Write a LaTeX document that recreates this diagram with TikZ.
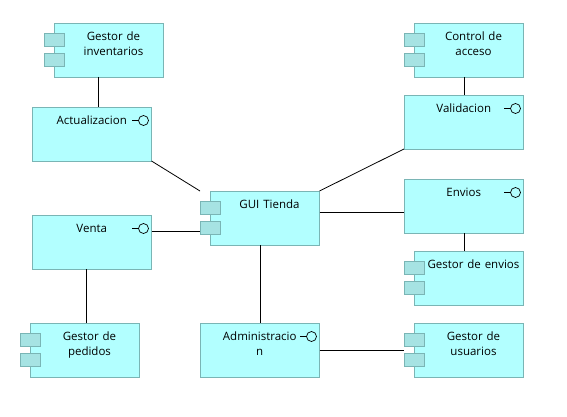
\documentclass[tikz,border=0pt]{standalone}
\usepackage{fontspec}
\setmainfont{Open Sans}
\definecolor{boxfill}{HTML}{B2FFFF}
\definecolor{boxline}{HTML}{7AB5B5}
\definecolor{tabfill}{HTML}{A6E3E3}
\begin{document}
\begin{tikzpicture}[x=1pt,y=-1pt,
	basebox/.style={draw=boxline,fill=boxfill,line width=.9pt,anchor=north west,outer sep=0pt,inner sep=0pt,
		align=center,font=\fontsize{11.5}{15}\selectfont,text height=17.5pt,text depth=36.5pt},
	compbox/.style={basebox,text width=109.5pt,
		execute at begin node={\leftskip=9.5pt plus 1fil\rightskip=0pt plus 1fil\parfillskip=0pt}},
	ifacebox/.style={basebox,text width=119.5pt},
	tabbox/.style={draw=boxline,fill=tabfill,line width=.9pt,minimum width=20.5pt,minimum height=13.5pt,inner sep=0pt,outer sep=0pt,anchor=north west},
	port/.style={draw=black,circle,line width=.7pt,minimum size=10pt,inner sep=0pt,outer sep=0pt},
	wire/.style={draw=black,line width=.8pt}]
	\useasboundingbox (0,0) rectangle (567,417);
	\node[compbox] (inv) at (54,23) {Gestor de\\inventarios};
	\node[ifacebox] (act) at (32,107) {Actualizacion};
	\node[compbox] (gui) at (210,191) {GUI Tienda};
	\node[ifacebox] (venta) at (32,215) {Venta};
	\node[compbox] (ped) at (30,323) {Gestor de\\pedidos};
	\node[ifacebox] (admin) at (200,323) {Administracio\\n};
	\node[compbox] (ctrl) at (414,23) {Control de\\acceso};
	\node[ifacebox] (valid) at (404,95) {Validacion};
	\node[ifacebox] (env) at (404,179) {Envios};
	\node[compbox] (genv) at (414,251) {Gestor de envios};
	\node[compbox] (usu) at (414,323) {Gestor de\\usuarios};
	% the two tabs of every component
	\foreach \n in {inv,gui,ped,ctrl,genv,usu} {
		\node[tabbox] (\n-tabone) at ([xshift=-10pt,yshift=-10pt]\n.north west) {};
		\node[tabbox] (\n-tabtwo) at ([xshift=-10pt,yshift=-30pt]\n.north west) {};
	}
	% lollipops
	\foreach \n in {act,venta,admin,valid,env} {
		\node[port] (\n-port) at ([xshift=-8pt,yshift=-13.5pt]\n.north east) {};
		\draw[wire,line width=.7pt] ([xshift=-6.5pt]\n-port.west) -- (\n-port.west);
	}
	\draw[wire] ([xshift=-10.25pt]inv.south) -- ([xshift=6.75pt]act.north);
	\draw[wire] (act.south east) -- ([xshift=-10pt]gui.north west);
	\draw[wire] (valid.south west) -- (gui.north east);
	\draw[wire] ([yshift=6pt]gui.east) -- ([yshift=-6pt]env.west);
	\draw[wire] ([yshift=11pt]venta.east) -- ([yshift=-3.25pt]gui-tabtwo.west);
	\draw[wire] ([xshift=-4.75pt]gui.south) -- ([xshift=.25pt]admin.north);
	\draw[wire] ([xshift=-4.75pt]ctrl.south) -- ([xshift=.25pt]valid.north);
	\draw[wire] ([xshift=.25pt]env.south) -- ([xshift=-4.75pt]genv.north);
	\draw[wire] ([xshift=-5.75pt]venta.south) -- ([xshift=1.25pt]ped.north);
	\draw[wire] (admin.east) -- (admin.east -| usu-tabtwo.west);
\end{tikzpicture}
\end{document}
